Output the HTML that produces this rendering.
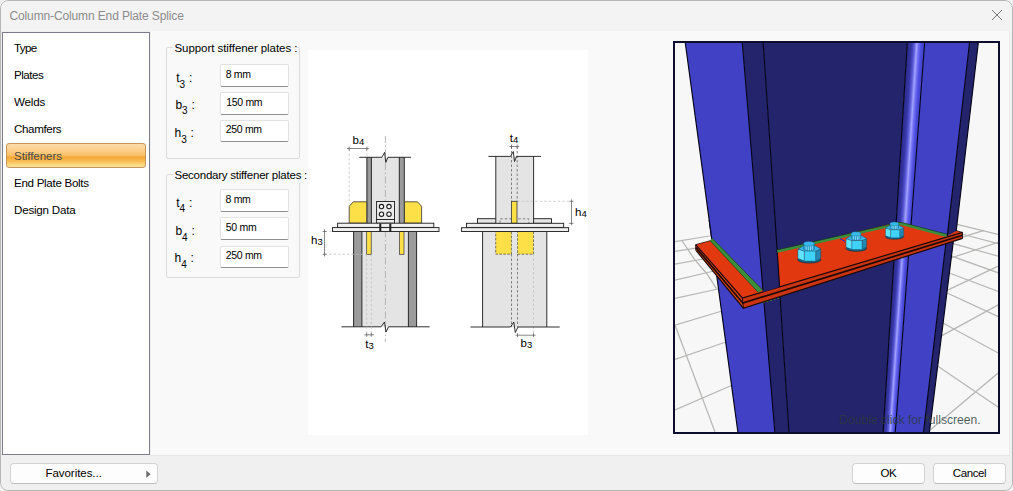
<!DOCTYPE html>
<html>
<head>
<meta charset="utf-8">
<title>Column-Column End Plate Splice</title>
<style>
*{box-sizing:border-box;margin:0;padding:0}
html,body{width:1013px;height:491px;overflow:hidden;background:#f1f1f1;font-family:"Liberation Sans",sans-serif;font-size:12px;color:#000}
#win{position:absolute;left:0;top:0;width:1013px;height:491px;background:#f0f0f0;border-radius:8px;overflow:hidden}
#frame{position:absolute;left:0;top:0;width:1013px;height:491px;border:1px solid #b6b6b6;border-radius:8px;z-index:50}
#title{position:absolute;left:0;top:0;width:1013px;height:31px;background:#f3f3f3}
#title .t{position:absolute;left:9.5px;top:9px;font-size:12px;color:#8c8c8c;letter-spacing:-0.13px;white-space:nowrap}
#close{position:absolute;left:990px;top:8px;width:14px;height:14px}
#panel{position:absolute;left:151px;top:31px;width:859px;height:425px;background:#f9f9f9;border-bottom:1px solid #e6e6e6;border-right:1px solid #ececec}
#list{position:absolute;left:2px;top:32px;width:148px;height:423px;background:#fff;border:1px solid #7d7d8a}
.li{position:absolute;left:11px;font-size:11.6px;white-space:nowrap;letter-spacing:-0.05px;}
#sel{position:absolute;left:3.4px;top:110.3px;width:139.6px;height:24.4px;border:1px solid #c6955a;border-radius:3px;background:linear-gradient(#fcdcaa 0%,#fbcd88 30%,#f9bd62 52%,#f5a631 56%,#f8bd55 75%,#fbd57a 88%,#fce29c 100%)}
.grp{position:absolute;border:1px solid #dcdcdc;border-radius:2px}
.glab{position:absolute;font-size:11.5px;background:#f9f9f9;white-space:nowrap;padding:0 0 1.5px 2px;letter-spacing:-0.06px}
.inp{position:absolute;width:69px;height:23px;background:#fff;border:1px solid #e2e2e2;border-bottom-color:#8f8f8f;border-radius:2px}
.itx{position:absolute;font-size:10.5px;letter-spacing:-0.3px;white-space:nowrap;line-height:13px}
.lab{position:absolute;font-size:12px;white-space:nowrap}
.lab sub{font-size:10px;vertical-align:-5.5px;margin-right:0.5px}
.btn{position:absolute;height:21px;background:#fdfdfd;border:1px solid #d2d2d2;border-bottom-color:#bdbdbd;border-radius:4px;font-size:11.5px;text-align:center;line-height:19.5px;letter-spacing:-0.4px}
#diag{position:absolute;left:308px;top:50px;width:280px;height:385px;background:#fff}
#view{position:absolute;left:673px;top:41px;width:327px;height:393px;border:2px solid #0c0c2c;background:#f6f6f6;overflow:hidden}
</style>
</head>
<body>
<div id="win">
  <div id="frame"></div>
  <div id="title"><span class="t">Column-Column End Plate Splice</span>
    <svg id="close" viewBox="0 0 14 14"><path d="M2 2 L12 12 M12 2 L2 12" stroke="#777" stroke-width="1" fill="none"/></svg>
  </div>
  <div id="panel"></div>
  <div id="list">
    <div id="sel"></div>
    <div class="li" style="top:8.4px;letter-spacing:-0.66px">Type</div>
    <div class="li" style="top:35.2px;letter-spacing:-0.49px">Plates</div>
    <div class="li" style="top:61.9px;letter-spacing:-0.16px">Welds</div>
    <div class="li" style="top:88.6px;letter-spacing:-0.37px">Chamfers</div>
    <div class="li" style="top:116.0px;letter-spacing:-0.08px;color:#4a4a4a">Stiffeners</div>
    <div class="li" style="top:143.0px;letter-spacing:-0.30px">End Plate Bolts</div>
    <div class="li" style="top:170.1px;letter-spacing:-0.22px">Design Data</div>
  </div>

  <div id="diag"><svg width="280" height="385" viewBox="308 50 280 385" style="position:absolute;left:0;top:0" font-family="Liberation Sans, sans-serif">
<g shape-rendering="auto">
<!-- ===== LEFT VIEW ===== -->
<!-- upper column -->
<rect x="366.7" y="157.3" width="37.8" height="66" fill="#e4e4e4"/>
<rect x="366.7" y="157.3" width="4.7" height="66" fill="#9b9b9b"/>
<rect x="399.3" y="157.3" width="4.9" height="66" fill="#9b9b9b"/>
<g stroke="#1a1a1a" stroke-width="0.9" fill="none">
<path d="M366.9 157.3V223.2M371.4 157.3V223.2M399.3 157.3V223.2M404.3 157.3V223.2"/>
</g>
<!-- yellow upper stiffeners -->
<path d="M349.2 223.2V206.3L353.3 201.8H366.7V223.2Z" fill="#fde047" stroke="#333" stroke-width="0.8"/>
<path d="M421.6 223.2V206.3L417.4 201.8H404.5V223.2Z" fill="#fde047" stroke="#333" stroke-width="0.8"/>
<!-- lower column -->
<rect x="353.4" y="231.5" width="63.2" height="95.3" fill="#e4e4e4"/>
<rect x="353.4" y="231.5" width="8.4" height="95.3" fill="#9b9b9b"/>
<rect x="408.4" y="231.5" width="8.2" height="95.3" fill="#9b9b9b"/>
<g stroke="#1a1a1a" stroke-width="0.9" fill="none">
<path d="M353.6 231.5V326.8M361.9 231.5V326.8M408.4 231.5V326.8M416.6 231.5V326.8"/>
</g>
<!-- yellow lower stiffeners -->
<rect x="366.7" y="231.5" width="4.5" height="22.8" fill="#fde047" stroke="#333" stroke-width="0.7"/>
<rect x="399.6" y="231.5" width="4.4" height="22.8" fill="#fde047" stroke="#333" stroke-width="0.7"/>
<!-- centre line -->
<path d="M385.4 136V342" stroke="#a8a8a8" stroke-width="0.8" stroke-dasharray="7 2.5 1.5 2.5" fill="none"/>
<!-- bolt box -->
<rect x="376.6" y="201.5" width="17.9" height="18" fill="#ececec" stroke="#1a1a1a" stroke-width="0.9"/>
<rect x="376.6" y="219.5" width="17.9" height="3.7" fill="#ececec" stroke="#1a1a1a" stroke-width="0.9"/>
<g fill="#fff" stroke="#1a1a1a" stroke-width="1.1">
<circle cx="381.5" cy="206.6" r="2.2"/><circle cx="389" cy="206.6" r="2.2"/>
<circle cx="381.5" cy="214.2" r="2.2"/><circle cx="389" cy="214.2" r="2.2"/>
</g>
<!-- plates -->
<rect x="337.6" y="223.2" width="96.2" height="4.2" fill="#f0f0f0" stroke="#1a1a1a" stroke-width="0.9"/>
<rect x="332.5" y="227.6" width="106.5" height="3.9" fill="#f0f0f0" stroke="#1a1a1a" stroke-width="0.9"/>
<rect x="379.3" y="223.6" width="2" height="8.4" fill="#222"/>
<rect x="389.3" y="223.6" width="2" height="8.4" fill="#222"/>
<!-- top & bottom lines with break -->
<path d="M359.3 157.3H381.8L384.6 152.4L385.8 162.4L387.9 157.3H411" fill="none" stroke="#1a1a1a" stroke-width="0.9"/>
<path d="M341.5 326.8H381L384.5 322L386 332L388.5 326.8H429.6" fill="none" stroke="#1a1a1a" stroke-width="0.9"/>
<!-- b4 dim -->
<g stroke="#bdbdbd" stroke-width="0.7" stroke-dasharray="2.5 2" fill="none">
<path d="M349.2 149V202M366.9 149V157"/>
</g>
<g stroke="#555" stroke-width="0.7" fill="none">
<path d="M347 148.5H368.8M349.2 146.5V150.5M366.9 146.5V150.5"/>
</g>
<text x="352.5" y="143.8" font-size="11.5">b<tspan font-size="9.5" dy="1">4</tspan></text>
<!-- h3 dim -->
<g stroke="#bdbdbd" stroke-width="0.7" stroke-dasharray="2.5 2" fill="none">
<path d="M324.5 254.3H366.7M324.5 231.4H332"/>
<path d="M366.7 254.3V336M371.3 254.3V336"/>
</g>
<g stroke="#555" stroke-width="0.7" fill="none">
<path d="M324.5 229.3V256.4M322.5 231.4H326.5M322.5 254.3H326.5"/>
<path d="M364.3 334.8H374M366.7 332.8V336.8M371.3 332.8V336.8"/>
</g>
<text x="311" y="244.3" font-size="11.5">h<tspan font-size="9.5" dy="1">3</tspan></text>
<text x="365.3" y="348" font-size="11.5">t<tspan font-size="9.5" dy="1">3</tspan></text>

<!-- ===== RIGHT VIEW ===== -->
<!-- small upper plate -->
<rect x="477.5" y="218.7" width="74" height="4.6" fill="#e4e4e4" stroke="#1a1a1a" stroke-width="0.9"/>
<!-- upper column -->
<rect x="495.8" y="156.4" width="37.8" height="66.8" fill="#e4e4e4"/>
<path d="M495.8 156.4V223.2M533.6 156.4V223.2" stroke="#1a1a1a" stroke-width="0.9" fill="none"/>
<!-- lower column -->
<rect x="482.6" y="231.4" width="64.2" height="95.6" fill="#e4e4e4"/>
<path d="M482.6 231.4V327M546.8 231.4V327" stroke="#1a1a1a" stroke-width="0.9" fill="none"/>
<!-- yellow lower -->
<rect x="495.7" y="231.4" width="15.7" height="22.8" fill="#fde047" stroke="#444" stroke-width="0.7" stroke-dasharray="2.5 1.5"/>
<rect x="517.6" y="231.4" width="15.9" height="22.8" fill="#fde047" stroke="#444" stroke-width="0.7" stroke-dasharray="2.5 1.5"/>
<!-- dashed hidden lines -->
<g stroke="#666" stroke-width="0.8" stroke-dasharray="2.5 2" fill="none">
<path d="M511.5 146.5V201.3M517.2 146.5V201.3"/>
<path d="M511.5 254V327M517.5 254V327"/>
<path d="M500 223V218.8H528.8V223"/>
</g>
<g stroke="#bdbdbd" stroke-width="0.7" stroke-dasharray="2.5 2" fill="none">
<path d="M533.5 254V336"/>
<path d="M517.2 201.3H571.5M568.6 223.3H571.5"/>
</g>
<!-- yellow upper stiffener -->
<rect x="511.6" y="201.3" width="5.4" height="21.9" fill="#fde047" stroke="#333" stroke-width="0.8"/>
<!-- plates -->
<rect x="466.5" y="223.3" width="97.2" height="4.1" fill="#f0f0f0" stroke="#1a1a1a" stroke-width="0.9"/>
<rect x="461.6" y="227.7" width="107" height="3.8" fill="#f0f0f0" stroke="#1a1a1a" stroke-width="0.9"/>
<!-- top & bottom lines -->
<path d="M488.4 156.4H510.5L513.3 151.5L514.5 161.5L516.6 156.4H541" fill="none" stroke="#1a1a1a" stroke-width="0.9"/>
<path d="M470.5 327H510.5L513.8 322L515.3 332.5L518 327H559.7" fill="none" stroke="#1a1a1a" stroke-width="0.9"/>
<!-- t4 dim -->
<g stroke="#555" stroke-width="0.7" fill="none">
<path d="M509.4 146.5H519.3M511.5 144.5V148.5M517.2 144.5V148.5"/>
<path d="M571.5 199.5V225.3M569.5 201.3H573.5M569.5 223.3H573.5"/>
<path d="M515.5 335.2H535.6M517.5 333.2V337.2M533.5 333.2V337.2"/>
</g>
<text x="509.8" y="141.5" font-size="11.5">t<tspan font-size="9.5" dy="1">4</tspan></text>
<text x="575" y="216" font-size="11.5">h<tspan font-size="9.5" dy="1">4</tspan></text>
<text x="520.5" y="347.3" font-size="11.5">b<tspan font-size="9.5" dy="1">3</tspan></text>
</g>
</svg>
</div>
  <div id="view"><svg width="324" height="389" viewBox="675 43 324 389" style="position:absolute;left:0;top:0" font-family="Liberation Sans, sans-serif">
<defs>
<linearGradient id="fil" gradientUnits="userSpaceOnUse" x1="0" y1="0" x2="1" y2="0" gradientTransform="matrix(16.2 0 -0.0655 1 910.42 0)">
<stop offset="0" stop-color="#2a2a88"/><stop offset="0.25" stop-color="#3636a6"/><stop offset="0.42" stop-color="#5a5ad8"/><stop offset="0.57" stop-color="#a2a2ff"/><stop offset="0.7" stop-color="#6c6cf2"/><stop offset="0.85" stop-color="#4a4adc"/><stop offset="1" stop-color="#4444d0"/>
</linearGradient>
<linearGradient id="fil2" gradientUnits="userSpaceOnUse" x1="0" y1="0" x2="1" y2="0" gradientTransform="matrix(13.5 0 -0.0685 1 912.07 0)">
<stop offset="0" stop-color="#2a2a88"/><stop offset="0.25" stop-color="#3636a6"/><stop offset="0.42" stop-color="#5a5ad8"/><stop offset="0.57" stop-color="#a2a2ff"/><stop offset="0.7" stop-color="#6c6cf2"/><stop offset="0.85" stop-color="#4a4adc"/><stop offset="1" stop-color="#4444d0"/>
</linearGradient>
<g id="nut">
  <ellipse cx="0" cy="-3" rx="11.6" ry="3.4" fill="#17607f" stroke="#0a2a3a" stroke-width="0.6"/>
  <path d="M-11.4 -4.5V-13.5L-5 -11.6V-2.2Z" fill="#62e6ff"/>
  <path d="M-5 -11.6H6.5V-1.9H-5Z" fill="#3fd2fa"/>
  <path d="M6.5 -11.6L11.4 -13.8V-4.8L6.5 -1.9Z" fill="#2488b4"/>
  <path d="M-11.4 -13.5L-6 -17H6L11.4 -13.8L6.5 -11.6H-5Z" fill="#36b8ea" stroke="#0f4a66" stroke-width="0.5"/>
  <path d="M-11.4 -4.5V-13.5M11.4 -4.8V-13.8M-5 -11.6V-2.2M6.5 -11.6V-1.9" stroke="#0f4a66" stroke-width="0.5" fill="none"/>
  <path d="M-5.7 -19V-13.8A5.4 2 0 0 0 5 -13.8V-19Z" fill="#2a9fd0" stroke="#0f4a66" stroke-width="0.4"/>
  <path d="M-3.2 -18V-12.6M-1 -18V-12.2M1.2 -18V-12.2M3 -18V-12.6" stroke="#a4ecff" stroke-width="0.8" fill="none"/>
  <ellipse cx="-0.3" cy="-19" rx="5.5" ry="2.3" fill="#38baec" stroke="#16668a" stroke-width="0.4"/>
</g>
</defs>
<rect x="675" y="43" width="324" height="389" fill="#f7f7f7"/>
<!-- floor grid -->
<g stroke="#b6b6b4" stroke-width="1.25" fill="none">
<path d="M675 241.7L709.5 236"/>
<path d="M675 251.5L696 248.2"/>
<path d="M675 264.2L706 258.5"/>
<path d="M675 280.1L714 271"/>
<path d="M675 298.5L718 289"/>
<path d="M675 325.2L722 311"/>
<path d="M675 359.4L726 342"/>
<path d="M675 409.9L732 385.3"/>
<path d="M682.2 241L694.5 259.3L706.7 273.5L716.5 288.6"/>
<path d="M675 325L715 432"/>
<!-- right -->
<path d="M955 223.9L999 234.6"/>
<path d="M958 233L999 243.9"/>
<path d="M953 243.7L999 256.3"/>
<path d="M951 255.9L999 273.1"/>
<path d="M948 272.5L999 291.7"/>
<path d="M945 292L999 317"/>
<path d="M941 322L999 353.4"/>
<path d="M936 364.9L999 407.7"/>
<path d="M960 237.9L984 230.4"/>
<path d="M951 258L999 242.1"/>
<path d="M946.5 290.6L999 265.8"/>
<path d="M941 336.1L999 304.5"/>
<path d="M929 431L999 372.3"/>
</g>
<!-- lower column -->
<path d="M709 220L762 220L774.9 433L738 433Z" fill="#4141c6"/>
<path d="M757.1 220L775 220L789 433L774.9 433Z" fill="#24246c"/>
<path d="M775 220L896.4 220L883.1 433L789 433Z" fill="#24246c"/>
<path d="M896.4 220L911.2 220L895.2 433L883.1 433Z" fill="url(#fil2)"/>
<path d="M911.2 220L948.6 220L923.4 433L895.2 433Z" fill="#4141c6"/>
<path d="M948.6 220L956 220L929.3 433L923.4 433Z" fill="#24246c"/>
<g stroke="#04041a" stroke-width="1.15" fill="none">
<path d="M709.2 220L738 433M757.1 220L774.9 433M775 220L789 433M896.4 220L883.1 433M911.2 220L895.2 433M948.6 220L923.4 433M956 220L929.3 433"/>
</g>
<!-- plate -->
<path d="M763 302.6L780 297.6" stroke="#3a9a3a" stroke-width="1.4" stroke-dasharray="1.6 2.2"/>
<path d="M695.7 244.6L711 240.5L900 215L957 230.8L962.5 232.4L742.3 298Z" fill="#e2380f"/>
<path d="M695.7 244.6L742.3 298L743.4 308.2L696.2 250.7Z" fill="#ea4416"/>
<path d="M742.3 298L962.5 232.4L962.5 238.4L743.4 308.2Z" fill="#cc3310"/>
<g stroke="#1a0a04" fill="none">
<path d="M695.7 244.6L742.3 298L962.5 232.4" stroke-width="1.2"/>
<path d="M696.2 250.7L743.4 308.2L962.5 238.4" stroke-width="1.2"/>
<path d="M696 247.6L742.8 303L962.5 235.3" stroke-width="1.7"/>
<path d="M695.7 244.6V250.7M742.3 298L743.4 308.2M962.5 232.4V238.4" stroke-width="0.9"/>
<path d="M695.7 244.6L711 240.5M957 230.8L962.5 232.4" stroke-width="0.7"/>
</g>
<!-- upper column -->
<path d="M685.3 43L742.3 43L763 290.4L711.7 238.6Z" fill="#4141c6"/>
<path d="M742.3 43L763.2 43L779.6 287L763 291.9Z" fill="#24246c"/>
<path d="M763.2 43L907.3 43L896.2 222.5L777.2 251.2Z" fill="#24246c"/>
<path d="M907.3 43L924.6 43L911 225.5L900 223L896.2 222.5Z" fill="url(#fil)"/>
<path d="M924.6 43L969.5 43L947.3 236L911 225.5Z" fill="#4141c6"/>
<path d="M969.5 43L978.3 43L956.2 231L947.3 236Z" fill="#24246c"/>
<g stroke="#04041a" stroke-width="1.15" fill="none">
<path d="M685.3 43L711.7 238.6M742.3 43L763 290.4M763.2 43L779.6 287M907.3 43L896.2 222.5M924.6 43L911 225.5M969.5 43L947.3 236M978.3 43L956.2 231"/>
</g>
<!-- welds -->
<g stroke="#3b8e3b" fill="none" stroke-linecap="butt">
<path d="M709.8 240.4L712.4 238.2L762.6 290L758.2 292.4Z" fill="#3b8e3b" stroke="none"/>
<path d="M777.3 251.3L893 225Q899 223 903 224.2L946.5 235.6" stroke-width="2.8"/>
</g>
<g stroke="#12300f" stroke-width="0.6" fill="none">
<path d="M712.2 238.4L762.6 290M709.8 240.4L758.2 292.4"/>
<path d="M777.2 249.8L893 223.6Q899 221.6 903 222.8L947 234.2"/>
</g>
<path d="M840 238.5L845 241.5" stroke="#2020e0" stroke-width="1"/>
<!-- nuts -->
<use href="#nut" transform="translate(809.3 262.7)"/>
<use href="#nut" transform="translate(856.3 251) scale(0.9)"/>
<use href="#nut" transform="translate(894.6 239) scale(0.8)"/>
<text x="839.3" y="424" font-size="13.2" fill="#2a3a3a" fill-opacity="0.82" textLength="141.3" lengthAdjust="spacingAndGlyphs">Double click for fullscreen.</text>
</svg>
</div>
  <div class="grp" style="left:166px;top:47px;width:134px;height:112px"></div>
  <div class="glab" style="left:172.5px;top:41.8px">Support stiffener plates :</div>
  <div class="grp" style="left:166px;top:174px;width:134px;height:104px"></div>
  <div class="glab" id="gl2" style="left:172.5px;top:169.4px;letter-spacing:-0.235px">Secondary stiffener plates :</div>
  <div class="inp" style="left:220px;top:64px;height:23px"></div><div class="itx" style="left:225.7px;top:68px">8 mm</div>
  <div class="inp" style="left:220px;top:92px;height:23px"></div><div class="itx" style="left:226.2px;top:95.5px">150 mm</div>
  <div class="inp" style="left:220px;top:120px;height:22px"></div><div class="itx" style="left:225.7px;top:123px">250 mm</div>
  <div class="inp" style="left:220px;top:189px;height:23px"></div><div class="itx" style="left:225.5px;top:192.5px">8 mm</div>
  <div class="inp" style="left:220px;top:217px;height:23px"></div><div class="itx" style="left:225.8px;top:220.6px">50 mm</div>
  <div class="inp" style="left:220px;top:246px;height:22px"></div><div class="itx" style="left:225.7px;top:248.7px">250 mm</div>
  <div class="lab" style="left:176.2px;top:71.1px">t<sub>3</sub> :</div>
  <div class="lab" style="left:175.4px;top:97.8px">b<sub>3</sub> :</div>
  <div class="lab" style="left:174.5px;top:126.0px">h<sub>3</sub> :</div>
  <div class="lab" style="left:176.2px;top:195.6px">t<sub>4</sub> :</div>
  <div class="lab" style="left:175.4px;top:224.2px">b<sub>4</sub> :</div>
  <div class="lab" style="left:174.5px;top:251.1px">h<sub>4</sub> :</div>

  <div class="btn" style="left:10px;top:463px;width:148px"><span style="position:absolute;left:34.5px;top:0;letter-spacing:-0.05px">Favorites...</span>
    <svg style="position:absolute;left:135px;top:6px" width="6" height="9" viewBox="0 0 6 9"><path d="M0.3 0.6 L4.6 4.2 L0.3 7.8 Z" fill="#6a6a6a"/></svg></div>
  <div class="btn" style="left:852px;top:463px;width:73px">OK</div>
  <div class="btn" style="left:933px;top:463px;width:73px">Cancel</div>
</div>
</body>
</html>
